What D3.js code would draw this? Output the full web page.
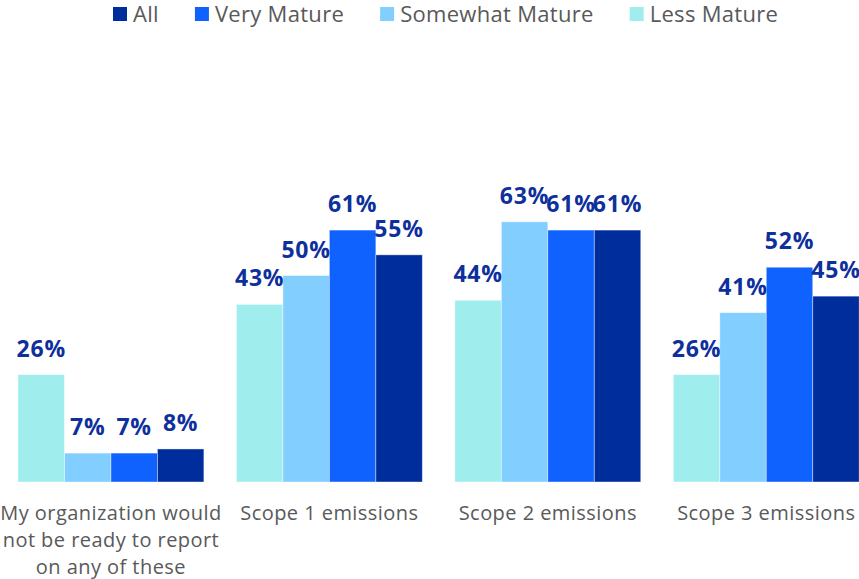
<!DOCTYPE html>
<html>
<head>
<meta charset="utf-8">
<script src="https://cdn.jsdelivr.net/npm/d3@7"></script>
<style>
  body { margin: 0; background: #fff; overflow: hidden; }
  svg { display: block; }
</style>
</head>
<body>
<div id="chart"></div>
<script>
const width = 859;
const height = 579;
const baseline = 482;
const fontFamily = "'Open Sans', sans-serif";

// data
const categories = [
  ["My organization would", "not be ready to report", "on any of these"],
  ["Scope 1 emissions"],
  ["Scope 2 emissions"],
  ["Scope 3 emissions"]
];
const seriesNames = ["Less Mature", "Somewhat Mature", "Very Mature", "All"];
const lessMature = [26, 43, 44, 26];
const somewhatMature = [7, 50, 63, 41];
const veryMature = [7, 61, 61, 52];
const all = [8, 55, 61, 45];
const legendOrder = ["All", "Very Mature", "Somewhat Mature", "Less Mature"];

const colors = {
  "Less Mature": "#a0eded",
  "Somewhat Mature": "#82cfff",
  "Very Mature": "#0f62fe",
  "All": "#002d9c"
};
const valueLists = [lessMature, somewhatMature, veryMature, all];

const svg = d3.select("#chart").append("svg")
  .attr("width", width)
  .attr("height", height);

const x0 = d3.scaleBand()
  .domain(d3.range(categories.length))
  .range([1.6, 875.6])
  .paddingInner(0.149)
  .paddingOuter(0.075);

const x1 = d3.scaleBand()
  .domain(seriesNames)
  .range([0, x0.bandwidth()]);

const y = d3.scaleLinear()
  .domain([0, 100])
  .range([baseline, 69]);

const groups = svg.selectAll("g.group")
  .data(categories)
  .enter()
  .append("g")
  .attr("class", "group")
  .attr("transform", (d, i) => `translate(${x0(i)},0)`);

groups.each(function(cat, gi) {
  const g = d3.select(this);
  const rows = seriesNames.map((name, si) => ({ name, value: valueLists[si][gi] }));

  g.selectAll("rect")
    .data(rows)
    .enter()
    .append("rect")
    .attr("x", d => x1(d.name))
    .attr("y", d => y(d.value))
    .attr("width", x1.bandwidth())
    .attr("height", d => baseline - y(d.value))
    .attr("fill", d => colors[d.name])
    .attr("stroke", "#ffffff")
    .attr("stroke-opacity", 0.5)
    .attr("stroke-width", 0.8);

  g.selectAll("text.val")
    .data(rows)
    .enter()
    .append("text")
    .attr("class", "val")
    .attr("x", d => x1(d.name) + x1.bandwidth() / 2)
    .attr("y", d => y(d.value) - 18)
    .attr("text-anchor", "middle")
    .style("font-family", fontFamily)
    .style("font-weight", "bold")
    .style("font-size", "23px")
    .style("letter-spacing", "0.8px")
    .style("fill", "#0e309c")
    .text(d => d.value + "%");

  const label = g.append("text")
    .attr("text-anchor", "middle")
    .attr("x", x0.bandwidth() / 2)
    .style("font-family", fontFamily)
    .style("font-size", "20px")
    .style("letter-spacing", "0.45px")
    .style("fill", "#595959");
  cat.forEach((line, li) => {
    label.append("tspan")
      .attr("x", x0.bandwidth() / 2)
      .attr("y", 520 + li * 27)
      .text(line);
  });
});

// legend
const legend = svg.append("g").attr("class", "legend");
let lx = 113;
legendOrder.forEach(name => {
  legend.append("rect")
    .attr("x", lx)
    .attr("y", 7)
    .attr("width", 14)
    .attr("height", 14)
    .attr("fill", colors[name]);
  const t = legend.append("text")
    .attr("x", lx + 20)
    .attr("y", 22)
    .style("font-family", fontFamily)
    .style("font-size", "22px")
    .style("letter-spacing", "0.3px")
    .style("fill", "#595959")
    .text(name);
  lx += 20 + t.node().getComputedTextLength() + 36;
});
</script>
</body>
</html>
